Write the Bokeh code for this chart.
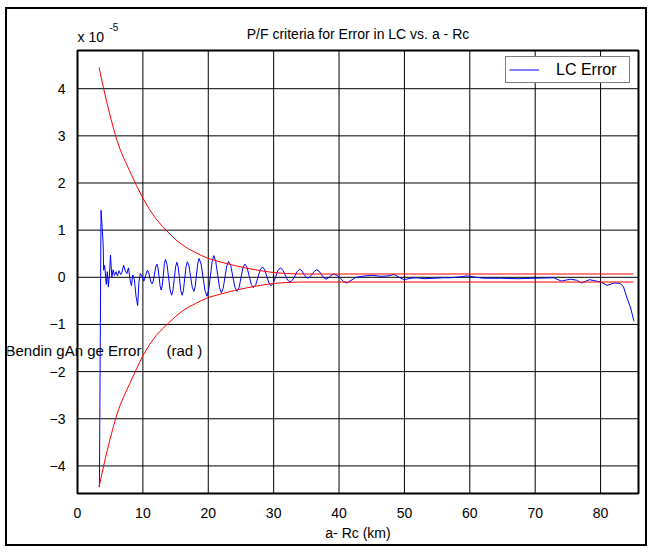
from bokeh.plotting import figure
from bokeh.models import Range1d, FixedTicker, Label, Legend, LegendItem, BoxAnnotation
from bokeh.embed import file_html
from bokeh.resources import INLINE

# ---- data (y values in units of 1e-5 rad) ----
x_ticks = [0, 10, 20, 30, 40, 50, 60, 70, 80]
y_ticks = [-4, -3, -2, -1, 0, 1, 2, 3, 4]

red_x = [3.3, 3.6, 4.0, 4.5, 5.0, 5.5, 6.0, 6.5, 7.0, 8.0, 9.0, 10.0, 11.0, 12.0, 13.0, 14.0, 15.0,
         16.0, 17.0, 18.0, 19.0, 20.0, 22.0, 24.0, 26.0, 28.0, 30.0, 32.0, 34.0, 85.0]
red_upper = [4.45, 4.25, 4.00, 3.70, 3.42, 3.16, 2.92, 2.72, 2.55, 2.25, 1.95, 1.68, 1.44, 1.24, 1.08,
             0.94, 0.80, 0.69, 0.60, 0.53, 0.46, 0.40, 0.32, 0.25, 0.19, 0.14, 0.10, 0.08, 0.07, 0.07]
red_lower = [-4.45, -4.25, -4.00, -3.70, -3.42, -3.16, -2.92, -2.72, -2.55, -2.25, -1.95, -1.66, -1.43,
             -1.24, -1.09, -0.96, -0.83, -0.72, -0.63, -0.56, -0.49, -0.43, -0.35, -0.28, -0.22, -0.17,
             -0.13, -0.11, -0.10, -0.10]

blue_pts = [
    (3.35, -4.45), (3.60, 1.42), (3.78, 1.05), (3.92, 0.72), (4.00, 0.15), (4.15, 0.25), (4.28, 0.05),
    (4.40, -0.15), (4.55, 0.12), (4.72, -0.20), (4.88, 0.05), (5.05, 0.47), (5.25, 0.00), (5.45, 0.16),
    (5.65, 0.04), (5.90, 0.12), (6.10, 0.03), (6.35, 0.14), (6.60, 0.06), (6.80, 0.10), (7.05, 0.26),
    (7.30, 0.14), (7.55, 0.08), (7.80, 0.20), (8.05, -0.06), (8.25, -0.18), (8.45, 0.05), (8.70, -0.05),
    (8.95, -0.40), (9.20, -0.60), (9.40, -0.10), (9.60, 0.08), (9.85, 0.03), (10.15, -0.08), (10.45, 0.05),
    (10.70, 0.15), (10.88, 0.11), (11.05, 0.00), (11.23, -0.10),
    (11.40, -0.14), (11.59, -0.08), (11.78, 0.07), (11.96, 0.22),
    (12.15, 0.28), (12.31, 0.20), (12.48, 0.00), (12.64, -0.19),
    (12.80, -0.27), (12.96, -0.18), (13.13, 0.05), (13.29, 0.29),
    (13.45, 0.38), (13.69, 0.27), (13.93, 0.00), (14.16, -0.27),
    (14.40, -0.38), (14.60, -0.28), (14.80, -0.03), (15.00, 0.22),
    (15.20, 0.32), (15.40, 0.22), (15.60, -0.03), (15.80, -0.28),
    (16.00, -0.38), (16.20, -0.28), (16.40, -0.02), (16.60, 0.23),
    (16.80, 0.33), (17.05, 0.24), (17.30, 0.01), (17.55, -0.21),
    (17.80, -0.30), (18.00, -0.20), (18.20, 0.05), (18.40, 0.30),
    (18.60, 0.40), (18.90, 0.28), (19.20, 0.00), (19.50, -0.28),
    (19.80, -0.40), (20.06, -0.27), (20.33, 0.03), (20.59, 0.33),
    (20.85, 0.46), (21.14, 0.34), (21.43, 0.06), (21.71, -0.21),
    (22.00, -0.33), (22.28, -0.23), (22.55, 0.00), (22.83, 0.24),
    (23.10, 0.34), (23.43, 0.25), (23.75, 0.02), (24.08, -0.21),
    (24.40, -0.30), (24.70, -0.22), (25.00, -0.01), (25.30, 0.20),
    (25.60, 0.28), (25.93, 0.21), (26.25, 0.03), (26.58, -0.15),
    (26.90, -0.22), (27.25, -0.16), (27.60, 0.00), (27.95, 0.16),
    (28.30, 0.22), (28.63, 0.16), (28.95, 0.02), (29.28, -0.12),
    (29.60, -0.18), (29.95, -0.12), (30.30, 0.01), (30.65, 0.14),
    (31.00, 0.20), (31.38, 0.16), (31.75, 0.05), (32.13, -0.06),
    (32.50, -0.10), (32.88, -0.06), (33.25, 0.03), (33.63, 0.13),
    (34.00, 0.17), (34.30, 0.14), (34.60, 0.07), (34.90, 0.01),
    (35.20, -0.02), (35.55, 0.01), (35.90, 0.07), (36.25, 0.13),
    (36.60, 0.16), (36.95, 0.13), (37.30, 0.06), (37.65, -0.01),
    (38.00, -0.04), (38.30, -0.02), (38.60, 0.02), (38.90, 0.05),
    (39.20, 0.07), (39.70, 0.04), (40.20, -0.02), (40.70, -0.09),
    (41.20, -0.12), (42.60, 0.00), (44.00, 0.03), (45.10, 0.04), (46.50, 0.02), (47.50, 0.03),
    (48.40, 0.06), (49.20, 0.00), (49.90, -0.05), (51.00, -0.02), (51.90, -0.01), (53.00, -0.03),
    (54.50, -0.02), (56.00, -0.01), (57.00, -0.01), (58.50, 0.01), (59.60, 0.03), (61.00, 0.00),
    (62.20, -0.02), (64.70, -0.02), (67.30, -0.03), (69.80, -0.02), (72.80, -0.01), (74.00, -0.08),
    (75.40, -0.04), (76.30, -0.06), (77.10, -0.12), (78.30, -0.05), (79.00, -0.07), (80.00, -0.10),
    (81.00, -0.17), (82.10, -0.12), (83.00, -0.13), (83.50, -0.20), (84.00, -0.42), (84.60, -0.65),
    (85.10, -0.93),
]
blue_x = [pt[0] for pt in blue_pts]
blue_y = [pt[1] for pt in blue_pts]

# axis limits of the plot area
X0, X1 = 0.0, 85.8
Y0, Y1 = -4.585, 4.81

# ---- layout (window pixels) ----
CX, CY = 7, 9            # canvas origin inside the outer border
W, H = 642, 539          # canvas size
PL, PR, PT, PB = 77, 638, 50, 493   # plot-area box in window pixels

sx = (PR - PL) / (X1 - X0)
sy = (PB - PT) / (Y1 - Y0)
XS = X0 - (PL - CX) / sx
XE = X1 + (CX + W - PR) / sx
YE = Y1 + (PT - CY) / sy
YS = Y0 - (CY + H - PB) / sy


def dx(wx):
    return XS + (wx - CX) / sx


def dy(wy):
    return YE - (wy - CY) / sy


FONT = "Liberation Sans"

p = figure(width=W, height=H, x_range=Range1d(XS, XE), y_range=Range1d(YS, YE),
           min_border_left=0, min_border_right=0, min_border_top=0, min_border_bottom=0,
           output_backend="svg", toolbar_location=None, title=None)
p.styles = {"margin-left": "5px", "margin-top": "7px", "border": "2px solid black"}

p.outline_line_color = None
p.background_fill_color = "white"
p.border_fill_color = "white"
p.xgrid.visible = False
p.ygrid.visible = False

for ax in (p.xaxis[0], p.yaxis[0]):
    ax.axis_line_color = None
    ax.major_tick_line_color = None
    ax.minor_tick_line_color = None
    ax.major_label_text_font = FONT
    ax.major_label_text_font_size = "14px"
    ax.major_label_text_color = "black"

p.xaxis.ticker = FixedTicker(ticks=x_ticks)
p.yaxis.ticker = FixedTicker(ticks=y_ticks)
p.xaxis.fixed_location = Y0
p.yaxis.fixed_location = X0
p.xaxis.bounds = (X0, X1)
p.yaxis.bounds = (Y0, Y1)
p.xaxis.major_label_standoff = 8
p.yaxis.major_label_standoff = 6
p.xaxis.axis_label = "a- Rc (km)"
p.xaxis.axis_label_text_font = FONT
p.xaxis.axis_label_text_font_size = "14px"
p.xaxis.axis_label_text_font_style = "normal"
p.xaxis.axis_label_text_color = "black"
p.xaxis.axis_label_standoff = 4

# grid lines of the plot area at the tick positions
p.segment(x0=x_ticks, y0=[Y0] * len(x_ticks), x1=x_ticks, y1=[Y1] * len(x_ticks),
          line_color="black", line_width=1)
p.segment(x0=[X0] * len(y_ticks), y0=y_ticks, x1=[X1] * len(y_ticks), y1=y_ticks,
          line_color="black", line_width=1)

blue = p.line(blue_x, blue_y, line_color="#0000ff", line_width=1)
p.line(red_x, red_upper, line_color="#ff0000", line_width=1)
p.line(red_x, red_lower, line_color="#ff0000", line_width=1)

# plot-area box
p.add_layout(BoxAnnotation(left=X0, right=X1, bottom=Y0, top=Y1, fill_alpha=0,
                           line_color="black", line_width=2, line_alpha=1))

p.add_layout(Label(x=dx(357.5), y=dy(33), text="P/F criteria for Error in LC vs. a - Rc",
                   text_align="center", text_baseline="middle", text_font=FONT,
                   text_font_size="14px", text_color="black"))
p.add_layout(Label(x=dx(77), y=dy(36), text="x 10", text_align="left",
                   text_baseline="middle", text_font=FONT, text_font_size="14px",
                   text_color="black"))
p.add_layout(Label(x=dx(109), y=dy(26.5), text="-5", text_align="left",
                   text_baseline="middle", text_font=FONT, text_font_size="10px",
                   text_color="black"))
p.add_layout(Label(x=dx(5), y=dy(350),
                   text="Bendin gAn ge Error\u00a0\u00a0\u00a0\u00a0\u00a0\u00a0(rad )",
                   text_align="left", text_baseline="middle", text_font=FONT,
                   text_font_size="15px", text_color="black"))

legend = Legend(items=[LegendItem(label="LC Error", renderers=[blue])],
                location=(505 - CX, CY + H - 83), padding=3, spacing=0, margin=0,
                glyph_width=30, glyph_height=19, label_height=19, label_width=70,
                label_standoff=17, label_text_font=FONT, label_text_font_size="16px",
                label_text_color="black", border_line_color="black", border_line_width=1,
                background_fill_color="white", background_fill_alpha=1.0)
p.add_layout(legend)

open("out.html", "w").write(file_html(p, INLINE))
